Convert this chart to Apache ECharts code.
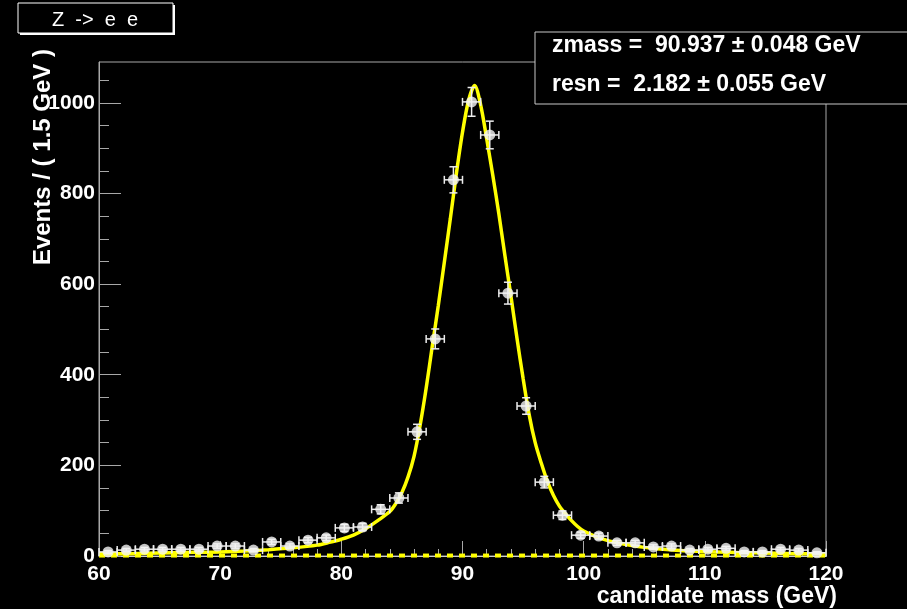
<!DOCTYPE html>
<html>
<head>
<meta charset="utf-8">
<script src="https://cdn.jsdelivr.net/npm/echarts@6/dist/echarts.min.js"></script>
<style>
  html, body { margin: 0; padding: 0; background: #000; }
  #chart { width: 907px; height: 609px; }
</style>
</head>
<body>
<div id="chart"></div>
<script>
// bin centres (1.5 GeV bins from 60 to 120)
const binCenters = [
  60.75, 62.25, 63.75, 65.25, 66.75, 68.25, 69.75, 71.25, 72.75, 74.25,
  75.75, 77.25, 78.75, 80.25, 81.75, 83.25, 84.75, 86.25, 87.75, 89.25,
  90.75, 92.25, 93.75, 95.25, 96.75, 98.25, 99.75, 101.25, 102.75, 104.25,
  105.75, 107.25, 108.75, 110.25, 111.75, 113.25, 114.75, 116.25, 117.75, 119.25
]
const counts = [
  9, 13, 15, 15, 15, 15, 22, 22, 13, 31,
  22, 35, 40, 62, 64, 103, 128, 274, 479, 830,
  1002, 929, 580, 331, 163, 90, 46, 44, 29, 29,
  20, 22, 13, 15, 17, 9, 9, 15, 13, 7
]
const countErr = [
  3, 3.6, 3.9, 3.9, 3.9, 3.9, 4.7, 4.7, 3.6, 5.6,
  4.7, 5.9, 6.3, 7.9, 8, 10.1, 11.3, 16.6, 21.9, 28.8,
  31.7, 30.5, 24.1, 18.2, 12.8, 9.5, 6.8, 6.6, 5.4, 5.4,
  4.5, 4.7, 3.6, 3.9, 4.1, 3, 3, 3.9, 3.6, 2.6
]
const halfBin = 0.75

// fitted curve
const fitX = [
  60, 62, 64, 66, 68, 70, 72, 74, 76, 78, 79, 80, 81, 82, 83,
  84, 84.5, 85, 85.5, 86, 86.5, 87, 87.5, 88, 88.5, 89, 89.5, 90, 90.5,
  91, 91.5, 92, 92.5, 93, 93.5, 94, 94.5, 95, 95.5, 96, 96.5, 97, 97.5,
  98, 98.5, 99, 99.5, 100, 101, 102, 103, 104, 105, 106, 108, 110, 112,
  114, 116, 118, 120
]
const fitY = [
  5, 5, 6, 7, 8, 9, 11, 14, 18, 24, 30, 37, 46, 60, 78,
  98, 116, 140, 174, 220, 288, 370, 462, 552, 648, 745, 845, 935, 1005,
  1038, 995, 920, 840, 755, 663, 573, 480, 392, 312, 250, 205, 165, 134,
  110, 93, 78, 65, 55, 43, 34, 28, 23, 19, 16, 12, 10, 8,
  7, 6, 5, 5
]
// background component (dashed)
const bgX = [60, 120]
const bgY = [1, 1]

const yMajor = [0, 200, 400, 600, 800, 1000]
const yMinor = [50, 100, 150, 250, 300, 350, 450, 500, 550, 650, 700, 750, 850, 900, 950, 1050]

const FONT = 'Liberation Sans'
const FRAME = '#a8a8a8'

const chart = echarts.init(document.getElementById('chart'))

const points = binCenters.map((x, i) => [x, counts[i]])
const errData = binCenters.map((x, i) => [x, counts[i], countErr[i]])

chart.setOption({
  backgroundColor: '#000',
  animation: false,
  grid: {
    left: 99, right: 81, top: 62, bottom: 53,
    show: true, borderColor: FRAME, borderWidth: 1
  },
  xAxis: {
    type: 'value', min: 60, max: 120, interval: 10,
    axisLine: { show: true, lineStyle: { color: '#d0d0d0', width: 1 } },
    axisTick: { show: true, inside: true, length: 15, lineStyle: { color: FRAME } },
    minorTick: { show: true, splitNumber: 5, length: 7, lineStyle: { color: FRAME } },
    splitLine: { show: false },
    axisLabel: { color: '#fff', fontFamily: FONT, fontWeight: 'bold', fontSize: 21, margin: 8 }
  },
  yAxis: [
    {
      type: 'value', min: 0, max: 1090, position: 'left',
      axisLine: { show: true, lineStyle: { color: FRAME, width: 1 } },
      axisTick: { show: true, inside: true, length: 22, customValues: yMajor, lineStyle: { color: FRAME } },
      axisLabel: {
        color: '#fff', fontFamily: FONT, fontWeight: 'bold', fontSize: 21, margin: 4,
        customValues: yMajor, formatter: (v) => String(v)
      },
      splitLine: { show: false }
    },
    {
      type: 'value', min: 0, max: 1090, position: 'left',
      axisLine: { show: false },
      axisTick: { show: true, inside: true, length: 10, customValues: yMinor, lineStyle: { color: FRAME } },
      axisLabel: { show: false },
      splitLine: { show: false }
    }
  ],
  series: [
    {
      type: 'line', data: bgX.map((x, i) => [x, bgY[i]]),
      showSymbol: false, z: 3,
      lineStyle: { color: '#ffff00', width: 4, type: [6, 6] }
    },
    {
      type: 'line', data: fitX.map((x, i) => [x, fitY[i]]),
      showSymbol: false, smooth: 0.3, z: 4,
      lineStyle: { color: '#ffff00', width: 3.5 }
    },
    {
      type: 'custom', z: 5, data: errData,
      renderItem: (params, api) => {
        const x = api.value(0), y = api.value(1), e = api.value(2)
        const c = api.coord([x, y])
        const l = api.coord([x - halfBin, y])
        const r = api.coord([x + halfBin, y])
        const t = api.coord([x, y + e])
        const b = api.coord([x, y - e])
        const st = { stroke: '#ededed', lineWidth: 1.5 }
        const cap = 4
        return {
          type: 'group',
          children: [
            { type: 'line', shape: { x1: l[0], y1: c[1], x2: r[0], y2: c[1] }, style: st },
            { type: 'line', shape: { x1: l[0], y1: c[1] - cap, x2: l[0], y2: c[1] + cap }, style: st },
            { type: 'line', shape: { x1: r[0], y1: c[1] - cap, x2: r[0], y2: c[1] + cap }, style: st },
            { type: 'line', shape: { x1: c[0], y1: t[1], x2: c[0], y2: b[1] }, style: st },
            { type: 'line', shape: { x1: c[0] - cap, y1: t[1], x2: c[0] + cap, y2: t[1] }, style: st },
            { type: 'line', shape: { x1: c[0] - cap, y1: b[1], x2: c[0] + cap, y2: b[1] }, style: st }
          ]
        }
      }
    },
    {
      type: 'scatter', data: points, z: 6,
      symbol: 'circle', symbolSize: 11,
      itemStyle: { color: '#f4f4f4' }
    }
  ],
  graphic: [
    // title box with shadow
    { type: 'rect', z: 100, shape: { x: 20, y: 5, width: 155, height: 30 }, style: { fill: '#fff' } },
    { type: 'rect', z: 101, shape: { x: 18, y: 3, width: 155, height: 30 }, style: { fill: '#000', stroke: '#fff', lineWidth: 1 } },
    {
      type: 'text', z: 102, x: 95, y: 20,
      style: { text: 'Z  ->  e  e', fill: '#fff', font: '20px "Liberation Sans"', align: 'center', verticalAlign: 'middle' }
    },
    // stats box
    { type: 'rect', z: 100, shape: { x: 535, y: 32, width: 380, height: 72 }, style: { fill: '#000', stroke: '#c8c8c8', lineWidth: 1 } },
    {
      type: 'text', z: 101, x: 552, y: 46,
      style: { text: 'zmass =  90.937 ± 0.048 GeV', fill: '#fff', font: 'bold 23px "Liberation Sans"', verticalAlign: 'middle' }
    },
    {
      type: 'text', z: 101, x: 552, y: 85,
      style: { text: 'resn =  2.182 ± 0.055 GeV', fill: '#fff', font: 'bold 23px "Liberation Sans"', verticalAlign: 'middle' }
    },
    // axis titles
    {
      type: 'text', z: 101, x: 43, y: 49, rotation: Math.PI / 2,
      style: { text: 'Events / ( 1.5 GeV )', fill: '#fff', font: 'bold 24px "Liberation Sans"', align: 'right', verticalAlign: 'middle' }
    },
    {
      type: 'text', z: 101, x: 837, y: 597,
      style: { text: 'candidate mass (GeV)', fill: '#fff', font: 'bold 23px "Liberation Sans"', align: 'right', verticalAlign: 'middle' }
    }
  ]
})
</script>
</body>
</html>
